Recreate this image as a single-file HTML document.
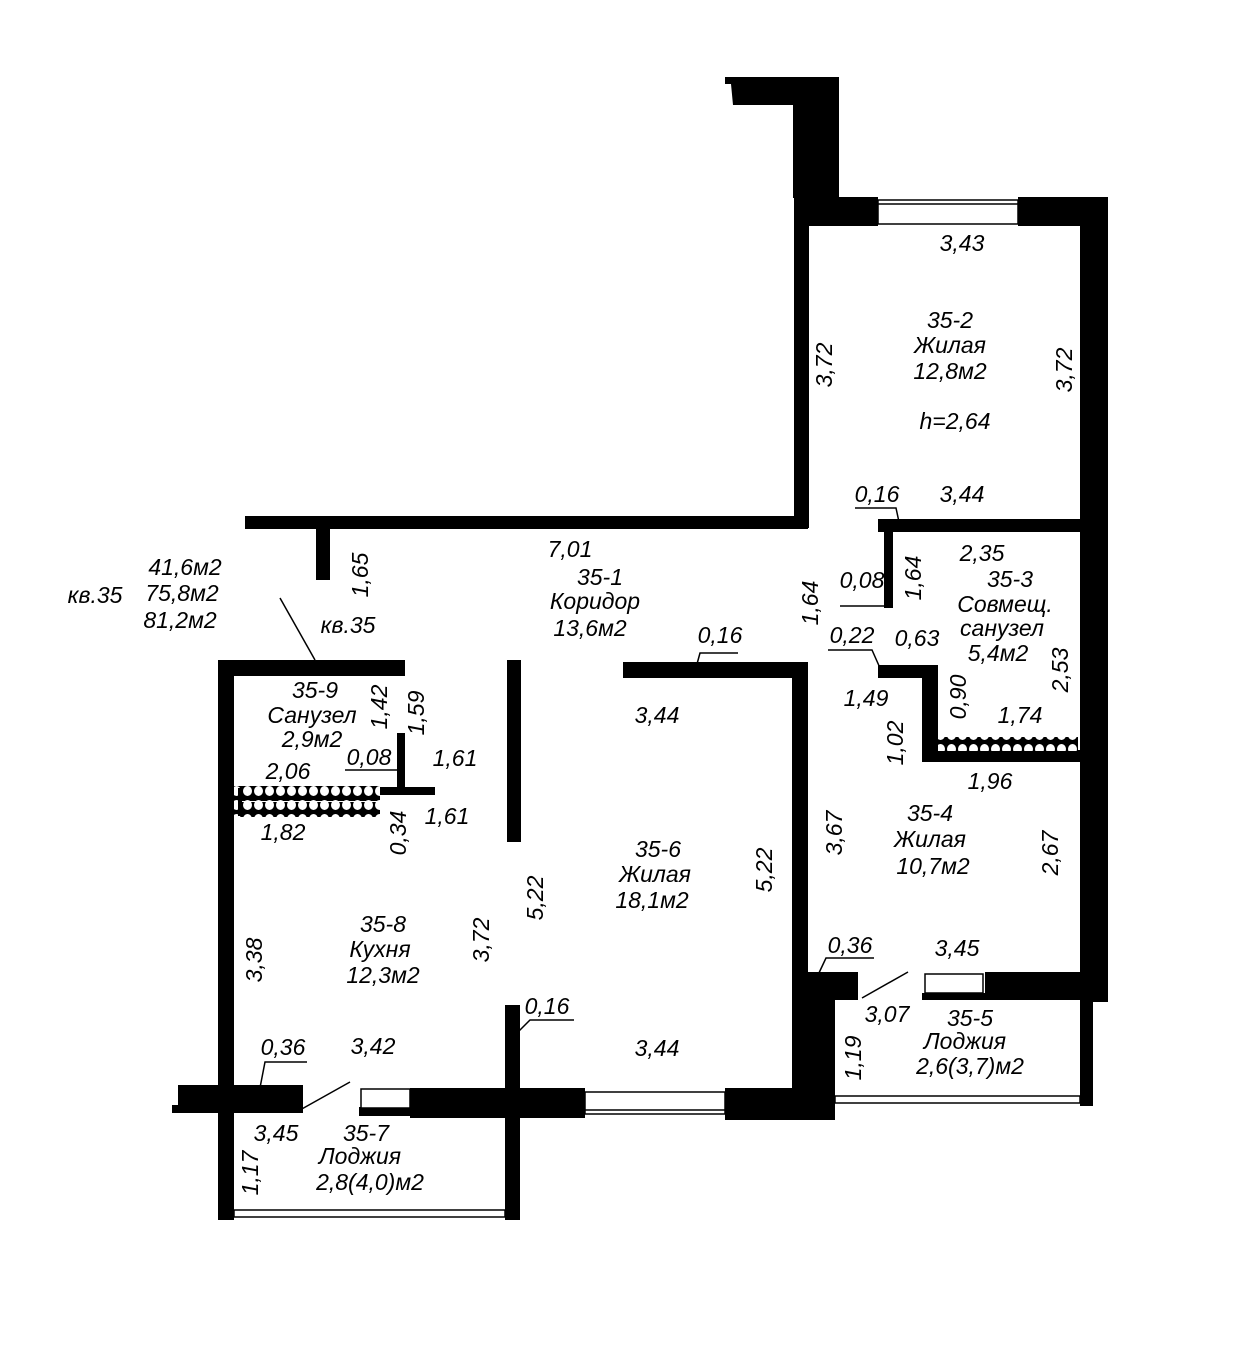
<!DOCTYPE html>
<html><head><meta charset="utf-8"><style>
html,body{margin:0;padding:0;background:#fff;}
svg{display:block;}
text{font-family:"Liberation Sans",sans-serif;font-style:italic;font-size:23px;fill:#000;text-anchor:middle;dominant-baseline:middle;}
</style></head><body>
<svg width="1242" height="1350" viewBox="0 0 1242 1350" xmlns="http://www.w3.org/2000/svg">
<defs>
<pattern id="vent" x="0" y="0" width="11" height="14" patternUnits="userSpaceOnUse">
<rect width="11" height="14" fill="#000"/>
<ellipse cx="5.5" cy="7" rx="4.5" ry="5" fill="#fff"/>
</pattern>
</defs>
<g fill="#000">
<!-- top stub -->
<polygon points="725,77 838,77 838,105 733,105 731,84 725,84"/>
<rect x="793" y="77" width="46" height="121"/>
<rect x="794" y="195" width="15" height="333"/>
<!-- 35-2 top wall -->
<rect x="808" y="197" width="70" height="29"/>
<rect x="1018" y="197" width="90" height="29"/>
<!-- right outer wall -->
<rect x="1080" y="197" width="28" height="805"/>
<!-- corridor long wall -->
<rect x="245" y="516" width="563" height="13"/>
<rect x="316" y="528" width="14" height="52"/>
<!-- 35-2/35-3 wall -->
<rect x="878" y="519" width="204" height="13"/>
<rect x="884" y="532" width="9" height="76"/>
<!-- 35-3 bath walls -->
<rect x="878" y="665" width="60" height="13"/>
<rect x="922" y="665" width="16" height="97"/>
<rect x="922" y="750" width="158" height="12"/>
<!-- 35-6 walls -->
<rect x="623" y="662" width="185" height="16"/>
<rect x="792" y="662" width="16" height="430"/>
<rect x="507" y="660" width="14" height="182"/>
<rect x="505" y="1005" width="15" height="215"/>
<!-- kitchen -->
<rect x="218" y="660" width="16" height="560"/>
<rect x="218" y="660" width="187" height="16"/>
<rect x="397" y="733" width="8" height="57"/>
<rect x="380" y="787" width="55" height="8"/>
<!-- bottom wall -->
<polygon points="178,1085 303,1085 303,1113 172,1113 172,1105 178,1105"/>
<rect x="359" y="1107" width="52" height="9"/>
<rect x="410" y="1088" width="175" height="30"/>
<rect x="725" y="1088" width="110" height="32"/>
<!-- 35-4 bottom walls -->
<rect x="808" y="972" width="50" height="28"/>
<rect x="985" y="972" width="123" height="28"/>
<rect x="922" y="993" width="65" height="7"/>
<!-- loggia 35-5 -->
<rect x="808" y="998" width="27" height="122"/>
<rect x="1080" y="998" width="13" height="108"/>
</g>
<!-- windows -->
<g fill="#fff" stroke="#000" stroke-width="1.5">
<rect x="878" y="200" width="140" height="24"/>
<rect x="585" y="1092" width="140" height="22"/>
<rect x="361" y="1089" width="49" height="19"/>
<rect x="925" y="974" width="58" height="19"/>
</g>
<line x1="878" y1="204" x2="1018" y2="204" stroke="#000" stroke-width="1.5"/>
<line x1="585" y1="1110" x2="725" y2="1110" stroke="#000" stroke-width="1.5"/>
<!-- loggia rails -->
<g fill="none" stroke="#000" stroke-width="1.5">
<rect x="234" y="1210" width="271" height="7"/>
<rect x="835" y="1096" width="245" height="7"/>
</g>
<!-- vents -->
<rect x="234" y="786" width="146" height="15" fill="url(#vent)"/>
<rect x="234" y="802" width="146" height="15" fill="url(#vent)"/>
<rect x="238" y="788" width="4" height="28" fill="#000"/>
<rect x="938" y="737" width="140" height="14" fill="url(#vent)"/>
<!-- leader / door lines -->
<g stroke="#000" stroke-width="1.5" fill="none">
<line x1="280" y1="598" x2="315" y2="660"/>
<polyline points="855,508 896,508 899,522"/>
<polyline points="840,606 886,606"/>
<polyline points="828,650 872,650 880,668"/>
<polyline points="738,653 700,653 697,664"/>
<polyline points="345,770 400,770"/>
<polyline points="574,1020 530,1020 515,1035"/>
<polyline points="307,1062 265,1062 258,1098"/>
<polyline points="874,958 826,958 818,975"/>
<line x1="300" y1="1110" x2="350" y2="1082"/>
<line x1="862" y1="998" x2="908" y2="972"/>
</g>
<!-- labels -->
<text x="962" y="245">3,43</text>
<text x="950" y="322">35-2</text>
<text x="950" y="347">Жилая</text>
<text x="950" y="373">12,8м2</text>
<text x="955" y="423">h=2,64</text>
<text transform="translate(826,365) rotate(-90)">3,72</text>
<text transform="translate(1066,370) rotate(-90)">3,72</text>
<text x="877" y="496">0,16</text>
<text x="962" y="496">3,44</text>
<text x="982" y="555">2,35</text>
<text x="1010" y="581">35-3</text>
<text x="1005" y="606">Совмещ.</text>
<text x="1002" y="630">санузел</text>
<text x="998" y="655">5,4м2</text>
<text transform="translate(915,578) rotate(-90)">1,64</text>
<text x="862" y="582">0,08</text>
<text transform="translate(812,603) rotate(-90)">1,64</text>
<text x="852" y="637">0,22</text>
<text x="917" y="640">0,63</text>
<text transform="translate(960,697) rotate(-90)">0,90</text>
<text transform="translate(1062,670) rotate(-90)">2,53</text>
<text x="866" y="700">1,49</text>
<text x="1020" y="717">1,74</text>
<text transform="translate(897,743) rotate(-90)">1,02</text>
<text x="990" y="783">1,96</text>
<text x="930" y="815">35-4</text>
<text x="930" y="841">Жилая</text>
<text x="933" y="868">10,7м2</text>
<text transform="translate(836,833) rotate(-90)">3,67</text>
<text transform="translate(1052,853) rotate(-90)">2,67</text>
<text x="850" y="947">0,36</text>
<text x="957" y="950">3,45</text>
<text x="887" y="1016">3,07</text>
<text x="970" y="1020">35-5</text>
<text x="965" y="1043">Лоджия</text>
<text x="970" y="1068">2,6(3,7)м2</text>
<text transform="translate(855,1058) rotate(-90)">1,19</text>
<text x="185" y="569">41,6м2</text>
<text x="95" y="597">кв.35</text>
<text x="182" y="595">75,8м2</text>
<text x="180" y="622">81,2м2</text>
<text transform="translate(362,575) rotate(-90)">1,65</text>
<text x="348" y="627">кв.35</text>
<text x="570" y="551">7,01</text>
<text x="600" y="579">35-1</text>
<text x="595" y="603">Коридор</text>
<text x="590" y="630">13,6м2</text>
<text x="720" y="637">0,16</text>
<text x="657" y="717">3,44</text>
<text x="315" y="692">35-9</text>
<text x="312" y="717">Санузел</text>
<text x="312" y="741">2,9м2</text>
<text transform="translate(381,707) rotate(-90)">1,42</text>
<text transform="translate(418,713) rotate(-90)">1,59</text>
<text x="369" y="759">0,08</text>
<text x="455" y="760">1,61</text>
<text x="288" y="773">2,06</text>
<text x="283" y="834">1,82</text>
<text transform="translate(400,833) rotate(-90)">0,34</text>
<text x="447" y="818">1,61</text>
<text x="658" y="851">35-6</text>
<text x="655" y="876">Жилая</text>
<text x="652" y="902">18,1м2</text>
<text transform="translate(537,898) rotate(-90)">5,22</text>
<text transform="translate(766,870) rotate(-90)">5,22</text>
<text transform="translate(483,940) rotate(-90)">3,72</text>
<text transform="translate(256,960) rotate(-90)">3,38</text>
<text x="383" y="926">35-8</text>
<text x="380" y="951">Кухня</text>
<text x="383" y="977">12,3м2</text>
<text x="547" y="1008">0,16</text>
<text x="283" y="1049">0,36</text>
<text x="373" y="1048">3,42</text>
<text x="657" y="1050">3,44</text>
<text x="276" y="1135">3,45</text>
<text x="366" y="1135">35-7</text>
<text x="360" y="1158">Лоджия</text>
<text x="370" y="1184">2,8(4,0)м2</text>
<text transform="translate(252,1173) rotate(-90)">1,17</text>
</svg>
</body></html>
